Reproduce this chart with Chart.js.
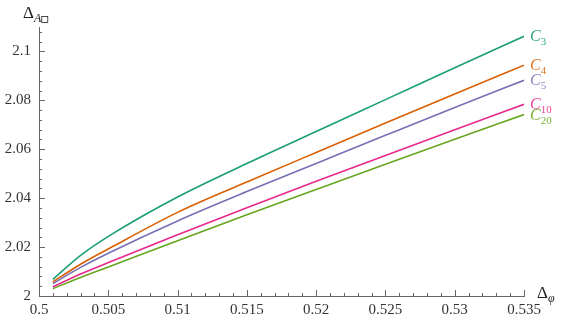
<!DOCTYPE html>
<html>
<head>
<meta charset="utf-8">
<script src="https://cdn.jsdelivr.net/npm/chart.js@4.4.1/dist/chart.umd.min.js"></script>
<style>
  html, body { margin: 0; padding: 0; background: #fff; }
  #wrap { width: 564px; height: 321px; position: relative; }
</style>
</head>
<body>
<div id="wrap"><canvas id="chart"></canvas></div>
<script>
const deltaPhi = [0.501, 0.503, 0.50515, 0.51, 0.515, 0.52, 0.525, 0.53, 0.535];

// Delta_A for each curve
const c3  = [2.0068, 2.0166, 2.0249, 2.0405, 2.0542, 2.0673, 2.0803, 2.0933, 2.1062];
const c4  = [2.0058, 2.0130, 2.0197, 2.0342, 2.0466, 2.0587, 2.0707, 2.0826, 2.0944];
const c5  = [2.0051, 2.0117, 2.0179, 2.0307, 2.0427, 2.0542, 2.0657, 2.0771, 2.0882];
const c10 = [2.0037, 2.0090, 2.0140, 2.0250, 2.0361, 2.0469, 2.0575, 2.0680, 2.0784];
const c20 = [2.0030, 2.0076, 2.0122, 2.0226, 2.0332, 2.0436, 2.0539, 2.0641, 2.0742];

const seriesNames = ['3', '4', '5', '10', '20'];
const seriesColors = ['#1b9e77', '#d95f02', '#7570b3', '#e7298a', '#66a61e'];
const labelColors = ['#2ca580', '#e07420', '#8a86c2', '#ec4499', '#78b233'];

const xTicks = [0.5, 0.505, 0.51, 0.515, 0.52, 0.525, 0.53, 0.535];
const yTicks = [2, 2.02, 2.04, 2.06, 2.08, 2.1];

const serif = '"Liberation Serif", "DejaVu Serif", serif';

function toPoints(ys) {
    return deltaPhi.map((x, i) => ({ x: x, y: ys[i] }));
}

const allSeries = [c3, c4, c5, c10, c20];

// Draw minor/major ticks, curve labels and axis titles
const decorPlugin = {
    id: 'decor',
    afterDraw(chart) {
        const ctx = chart.ctx;
        const xs = chart.scales.x;
        const ys = chart.scales.y;
        const area = chart.chartArea;
        ctx.save();
        ctx.strokeStyle = '#666';
        ctx.lineWidth = 1;

        // x ticks (minor every 0.001)
        for (let k = 0; k <= 35; k++) {
            const v = 0.5 + k * 0.001;
            const px = Math.round(xs.getPixelForValue(v)) + 0.5;
            const len = (k % 5 === 0) ? 6 : 3;
            ctx.beginPath();
            ctx.moveTo(px, area.bottom);
            ctx.lineTo(px, area.bottom - len);
            ctx.stroke();
        }
        // y ticks (minor every 0.004)
        for (let k = 0; k <= 27; k++) {
            const v = 2 + k * 0.004;
            if (v > ys.max) break;
            const py = Math.round(ys.getPixelForValue(v)) + 0.5;
            const len = (k % 5 === 0) ? 6 : 3;
            ctx.beginPath();
            ctx.moveTo(area.left, py);
            ctx.lineTo(area.left + len, py);
            ctx.stroke();
        }

        // curve labels at the right end
        allSeries.forEach((vals, i) => {
            const lx = xs.getPixelForValue(deltaPhi[deltaPhi.length - 1]) + 6;
            const ly = ys.getPixelForValue(vals[vals.length - 1]);
            ctx.fillStyle = labelColors[i];
            ctx.textBaseline = 'alphabetic';
            ctx.textAlign = 'left';
            ctx.font = 'italic 16px ' + serif;
            ctx.fillText('C', lx, ly + 5);
            const w = ctx.measureText('C').width;
            ctx.font = '11px ' + serif;
            ctx.fillText(seriesNames[i], lx + w, ly + 9);
        });

        // axis titles
        ctx.fillStyle = '#222';
        ctx.font = '17px ' + serif;
        ctx.textAlign = 'left';
        ctx.fillText('\u0394', 23, 18);
        let w = ctx.measureText('\u0394').width;
        ctx.font = 'italic 12px ' + serif;
        ctx.fillText('A', 23 + w, 22);
        const aw = ctx.measureText('A').width;
        ctx.strokeStyle = '#222';
        ctx.lineWidth = 0.8;
        ctx.strokeRect(23 + w + aw + 0.5, 16.5, 6, 6);

        ctx.font = '17px ' + serif;
        ctx.fillText('\u0394', 537, 298);
        w = ctx.measureText('\u0394').width;
        ctx.font = 'italic 12px ' + serif;
        ctx.fillText('\u03c6', 537 + w, 302);
        ctx.restore();
    }
};

const ctx = document.getElementById('chart').getContext('2d');
const chart = new Chart(ctx, {
    type: 'scatter',
    data: {
        datasets: allSeries.map((vals, i) => ({
            label: 'C' + seriesNames[i],
            data: toPoints(vals),
            showLine: true,
            cubicInterpolationMode: 'monotone',
            borderColor: seriesColors[i],
            backgroundColor: seriesColors[i],
            borderWidth: 1.6,
            pointRadius: 0,
            fill: false
        }))
    },
    options: {
        responsive: true,
        maintainAspectRatio: false,
        animation: false,
        layout: { padding: { top: 27, right: 40, left: 0, bottom: 0 } },
        plugins: {
            legend: { display: false },
            tooltip: { enabled: false }
        },
        scales: {
            x: {
                type: 'linear',
                min: 0.5,
                max: 0.535,
                grid: { display: false, drawTicks: false },
                border: { display: true, color: '#666', width: 1 },
                afterBuildTicks: scale => { scale.ticks = xTicks.map(v => ({ value: v })); },
                afterFit: scale => { scale.height = 25; },
                ticks: {
                    padding: 5,
                    color: '#333',
                    font: { family: serif, size: 15 },
                    maxRotation: 0,
                    autoSkip: false,
                    callback: v => String(Number(v.toFixed(3)))
                }
            },
            y: {
                type: 'linear',
                min: 2,
                max: 2.11,
                grid: { display: false, drawTicks: false },
                border: { display: true, color: '#666', width: 1 },
                afterBuildTicks: scale => { scale.ticks = yTicks.map(v => ({ value: v })); },
                afterFit: scale => { scale.width = 39; },
                ticks: {
                    padding: 8,
                    color: '#333',
                    font: { family: serif, size: 15 },
                    autoSkip: false,
                    callback: v => String(Number(v.toFixed(2)))
                }
            }
        }
    },
    plugins: [decorPlugin]
});
</script>
</body>
</html>
